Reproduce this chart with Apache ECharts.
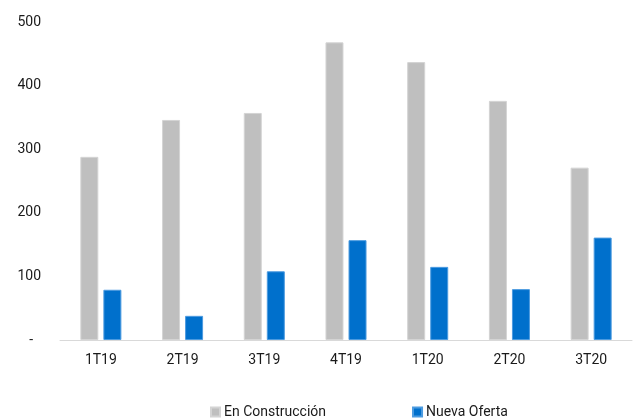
<!DOCTYPE html>
<html>
<head>
<meta charset="utf-8">
<script src="https://cdn.jsdelivr.net/npm/echarts@6/dist/echarts.min.js"></script>
<style>
  html, body { margin: 0; padding: 0; background: #fff; }
  #chart { width: 641px; height: 418px; }
</style>
</head>
<body>
<div id="chart"></div>
<script>
var categories = ['1T19', '2T19', '3T19', '4T19', '1T20', '2T20', '3T20'];
var enConstruccion = [288, 346, 357, 468, 437, 376, 271];
var nuevaOferta = [79, 38, 108, 157, 115, 80, 161];

var dom = document.getElementById('chart');
var myChart = echarts.init(dom);
var option = {
    animation: false,
    textStyle: { fontFamily: 'Roboto', color: '#1a1a1a' },
    grid: { left: 60, right: 9, top: 22, bottom: 78 },
    legend: {
        top: 400,
        left: 205,
        itemWidth: 9,
        itemHeight: 9,
        itemGap: 86,
        icon: 'rect',
        textStyle: { fontSize: 14, color: '#1a1a1a', padding: [0, 0, 0, -1] },
        data: ['En Construcción', 'Nueva Oferta']
    },
    xAxis: {
        type: 'category',
        data: categories,
        axisLine: { lineStyle: { color: '#d9d9d9', width: 1 } },
        axisTick: { show: false },
        axisLabel: { fontSize: 14, color: '#1a1a1a', margin: 13 }
    },
    yAxis: {
        type: 'value',
        min: 0,
        max: 500,
        interval: 100,
        splitLine: { show: false },
        axisLine: { show: false },
        axisTick: { show: false },
        axisLabel: {
            fontSize: 14,
            color: '#1a1a1a',
            margin: 19,
            formatter: function (v) {
                return v === 0 ? '{d|-}' : String(v);
            },
            rich: { d: { fontSize: 14, color: '#1a1a1a', padding: [0, 8, 0, 0] } }
        }
    },
    series: [
        {
            name: 'En Construcción',
            type: 'bar',
            data: enConstruccion,
            barWidth: 18,
            barGap: '28%',
            itemStyle: { color: '#bfbfbf', borderColor: '#d4d4d4', borderWidth: 1 }
        },
        {
            name: 'Nueva Oferta',
            type: 'bar',
            data: nuevaOferta,
            barWidth: 18,
            itemStyle: { color: '#0070cc', borderColor: '#4c9be0', borderWidth: 1 }
        }
    ]
};
myChart.setOption(option);
</script>
</body>
</html>
